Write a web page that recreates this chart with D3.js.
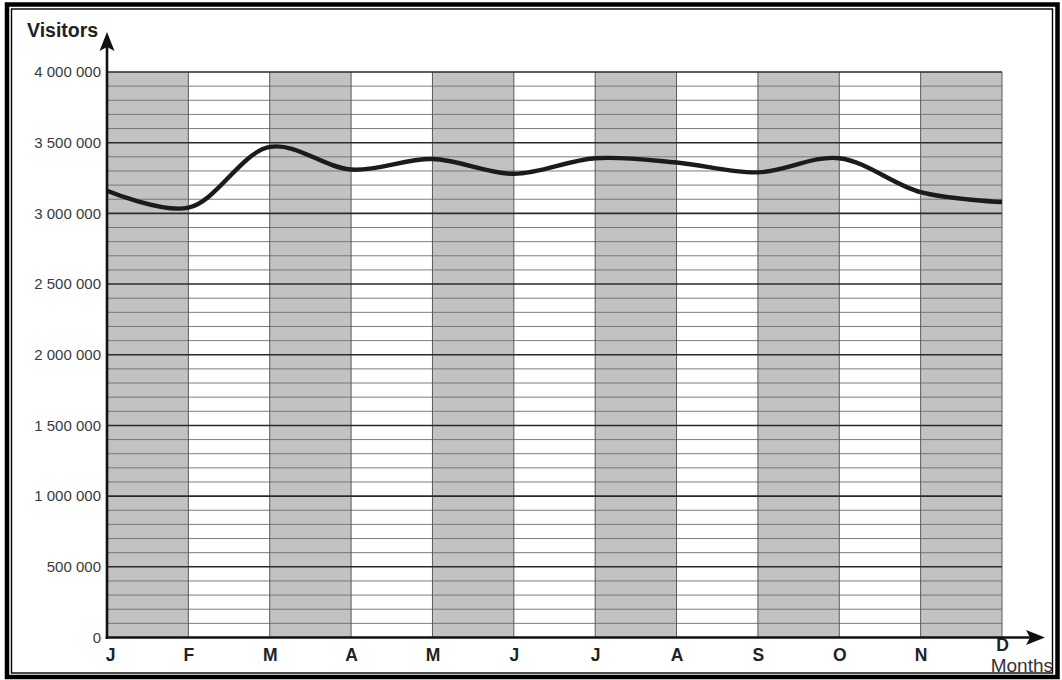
<!DOCTYPE html>
<html>
<head>
<meta charset="utf-8">
<script src="https://cdn.jsdelivr.net/npm/d3@7"></script>
<style>
  html, body { margin: 0; padding: 0; background: #fff; }
  svg { display: block; }
  text { font-family: "Liberation Sans", Arial, sans-serif; }
</style>
</head>
<body>
<svg id="chart" width="1062" height="680"></svg>
<script>
const months = ["J", "F", "M", "A", "M", "J", "J", "A", "S", "O", "N", "D"];
const visitors = [3160000, 3040000, 3470000, 3310000, 3385000, 3280000, 3390000, 3360000, 3290000, 3390000, 3150000, 3080000];
const yTicks = [0, 500000, 1000000, 1500000, 2000000, 2500000, 3000000, 3500000, 4000000];
const minorStep = 100000;
const yTitle = "Visitors";
const xTitle = "Months";

const svg = d3.select("#chart");
const W = 1062, H = 680;

// frames
svg.append("rect").attr("x", 7).attr("y", 4.5).attr("width", 1050.5).attr("height", 672.5)
  .attr("fill", "none").attr("stroke", "#000").attr("stroke-width", 4.5);
svg.append("rect").attr("x", 11.5).attr("y", 9).attr("width", 1041).attr("height", 664)
  .attr("fill", "none").attr("stroke", "#000").attr("stroke-width", 1.4);

const x = d3.scaleLinear().domain([0, months.length - 1]).range([107, 1002]);
const y = d3.scaleLinear().domain([0, 4000000]).range([637.5, 72]);

// shaded bands
const bandIdx = d3.range(0, months.length - 1).filter(i => i % 2 === 0);
svg.append("g").selectAll("rect").data(bandIdx).join("rect")
  .attr("x", i => x(i)).attr("y", y(4000000))
  .attr("width", i => x(i + 1) - x(i)).attr("height", y(0) - y(4000000))
  .attr("fill", "#c2c2c2");

// minor grid
const minor = d3.range(0, 4000001, minorStep).filter(v => v % 500000 !== 0);
svg.append("g").selectAll("line").data(minor).join("line")
  .attr("x1", x(0)).attr("x2", x(months.length - 1))
  .attr("y1", d => y(d)).attr("y2", d => y(d))
  .attr("stroke", "#6e6e6e").attr("stroke-width", 0.9);

// vertical lines
svg.append("g").selectAll("line").data(d3.range(1, months.length)).join("line")
  .attr("x1", i => x(i)).attr("x2", i => x(i))
  .attr("y1", y(4000000)).attr("y2", y(0))
  .attr("stroke", "#5a5a5a").attr("stroke-width", 1);

// major grid
svg.append("g").selectAll("line").data(yTicks.filter(v => v > 0)).join("line")
  .attr("x1", x(0)).attr("x2", x(months.length - 1))
  .attr("y1", d => y(d)).attr("y2", d => y(d))
  .attr("stroke", "#2a2a2a").attr("stroke-width", 1.6);

// y axis labels
const fmt = v => d3.format(",")(v).replace(/,/g, " ");
const yAxis = d3.axisLeft(y).tickValues(yTicks).tickFormat(fmt).tickSize(0).tickPadding(6);
const gy = svg.append("g").attr("transform", `translate(${x(0)},0)`).call(yAxis);
gy.select(".domain").remove();
gy.selectAll("text").attr("font-size", 15).attr("fill", "#3a3a3a")
  .attr("font-family", "'Liberation Sans', Arial, sans-serif");

// x axis labels
const xAxis = d3.axisBottom(x).tickValues(d3.range(months.length)).tickFormat(i => months[i]).tickSize(0).tickPadding(11);
const gx = svg.append("g").attr("transform", `translate(0,${y(0)})`).call(xAxis);
gx.select(".domain").remove();
gx.selectAll("text").attr("font-size", 17.5).attr("font-weight", "bold").attr("fill", "#222")
  .attr("font-family", "'Liberation Sans', Arial, sans-serif");
gx.selectAll(".tick").filter(i => i === 0).select("text").attr("dx", 3);
gx.selectAll(".tick").filter(i => i === months.length - 1).select("text").attr("dy", "0.12em");

// data line
const line = d3.line().x((d, i) => x(i)).y(d => y(d)).curve(d3.curveCatmullRom.alpha(0.5));
svg.append("path").datum(visitors).attr("d", line)
  .attr("fill", "none").attr("stroke", "#1e1a1a").attr("stroke-width", 4.4)
  .attr("stroke-linejoin", "round").attr("stroke-linecap", "butt");

// axes with arrows
svg.append("line").attr("x1", x(0)).attr("x2", x(0)).attr("y1", y(0) + 1.5).attr("y2", 45)
  .attr("stroke", "#111").attr("stroke-width", 2.6);
svg.append("line").attr("x1", x(0) - 1.3).attr("x2", 1032).attr("y1", y(0)).attr("y2", y(0))
  .attr("stroke", "#111").attr("stroke-width", 2.6);
svg.append("path").attr("d", `M${x(0)},32 L${x(0) + 7.5},51 L${x(0)},47 L${x(0) - 7.5},51 Z`).attr("fill", "#111");
svg.append("path").attr("d", `M1045,${y(0)} L1026,${y(0) - 7.5} L1030,${y(0)} L1026,${y(0) + 7.5} Z`).attr("fill", "#111");

// titles
svg.append("text").attr("x", 27).attr("y", 36.5).text(yTitle)
  .attr("font-size", 19.5).attr("font-weight", "bold").attr("fill", "#222");
svg.append("text").attr("x", 1053).attr("y", 671.5).attr("text-anchor", "end").text(xTitle)
  .attr("font-size", 19).attr("fill", "#333");
</script>
</body>
</html>
